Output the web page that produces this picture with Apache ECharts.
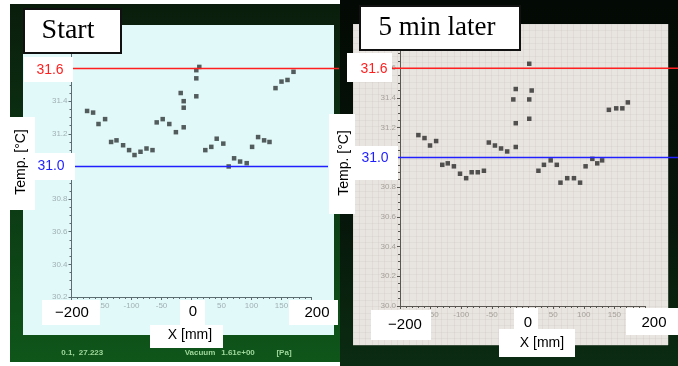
<!DOCTYPE html>
<html>
<head>
<meta charset="utf-8">
<script src="https://cdn.jsdelivr.net/npm/echarts@6/dist/echarts.min.js"></script>
<style>
html, body { margin: 0; padding: 0; background: #fff; }
#chart { width: 678px; height: 366px; }
</style>
</head>
<body>
<div id="chart"></div>
<script>
var xStart = [-174, -164, -155, -144, -134, -125, -114, -104, -95, -85, -75, -65, -58, -48, -37, -26,
    -18, -13, -13, -13, 13, 8, 8, 8,
    23, 33, 42, 53, 62, 71, 81, 92, 101, 111, 121, 130, 140, 150, 160, 170];
var tStart = [31.34, 31.33, 31.26, 31.29, 31.15, 31.16, 31.13, 31.10, 31.07, 31.09, 31.11, 31.10, 31.27, 31.29, 31.26, 31.21,
    31.45, 31.40, 31.36, 31.24, 31.61, 31.59, 31.54, 31.43,
    31.10, 31.12, 31.17, 31.14, 31.00, 31.05, 31.03, 31.02, 31.12, 31.18, 31.16, 31.15, 31.48, 31.52, 31.53, 31.58];

var xLater = [-170, -160, -151, -141, -131, -122, -112, -102, -92, -83, -73, -63, -55, -45, -35, -25,
    -15, -11, -11, -11, 11, 15, 11, 11,
    26, 35, 46, 56, 62, 73, 84, 94, 103, 114, 122, 130, 141, 153, 163, 172];
var tLater = [31.15, 31.13, 31.08, 31.11, 30.95, 30.96, 30.94, 30.89, 30.86, 30.90, 30.90, 30.91, 31.10, 31.08, 31.06, 31.04,
    31.39, 31.46, 31.23, 31.07, 31.63, 31.45, 31.39, 31.26,
    30.91, 30.95, 30.98, 30.95, 30.83, 30.86, 30.86, 30.83, 30.94, 30.99, 30.96, 30.98, 31.32, 31.33, 31.33, 31.37];

var refHigh = 31.6;
var refLow = 31.0;
var refHighLabel = "31.6";
var refLowLabel = "31.0";
var xEndLabels = ["\u2212200", "0", "200"];
var panelTitles = ["Start", "5 min later"];
var footerLeft = ["0.1,", "27.223", "Vacuum", "1.61e+00", "[Pa]"];

function pairs(xs, ys) {
    var out = [];
    for (var i = 0; i < xs.length; i++) out.push([xs[i], ys[i]]);
    return out;
}

var sans = "Liberation Sans, Arial, sans-serif";
var serif = "Liberation Serif, Times New Roman, serif";

function screenX(idx, color, lbl) {
    return {
        type: "value", gridIndex: idx, min: -200, max: 200, interval: 50,
        axisLine: { onZero: false, lineStyle: { color: color, width: 1 } },
        axisTick: { length: 3, lineStyle: { color: color } },
        minorTick: { show: true, splitNumber: 5, length: 2, lineStyle: { color: color } },
        splitLine: { show: false },
        axisLabel: { fontSize: 8, color: lbl, margin: 5, fontFamily: sans }
    };
}
function screenY(idx, min, color, lbl) {
    return {
        type: "value", gridIndex: idx, min: min, max: 31.8, interval: 0.2,
        axisLine: { show: true, onZero: false, lineStyle: { color: color, width: 1 } },
        axisTick: { show: true, length: 3, lineStyle: { color: color } },
        minorTick: { show: true, splitNumber: 4, length: 2, lineStyle: { color: color } },
        splitLine: { show: false },
        axisLabel: { fontSize: 8, color: lbl, margin: 4, fontFamily: sans,
            formatter: function (v) { return v.toFixed(1); } }
    };
}

var chart = echarts.init(document.getElementById("chart"));
chart.setOption({
    animation: false,
    backgroundColor: "#ffffff",
    grid: [
        { left: 71.5, top: 35.9, width: 240, height: 261.1 },
        { left: 400, top: 38.5, width: 245, height: 267.5 },
        { left: 353, top: 24, width: 315, height: 321 }
    ],
    xAxis: [
        screenX(0, "#5d6e72", "#9fb0b4"),
        screenX(1, "#5a5652", "#a6a09a"),
        { type: "value", gridIndex: 2, min: 0, max: 50, interval: 1,
          axisLine: { show: false }, axisTick: { show: false }, axisLabel: { show: false },
          splitLine: { show: true, lineStyle: { color: "rgba(205,188,182,0.25)", width: 1 } } }
    ],
    yAxis: [
        screenY(0, 30.2, "#5d6e72", "#9fb0b4"),
        screenY(1, 30.0, "#5a5652", "#a6a09a"),
        { type: "value", gridIndex: 2, min: 0, max: 50, interval: 1,
          axisLine: { show: false }, axisTick: { show: false }, axisLabel: { show: false },
          splitLine: { show: true, lineStyle: { color: "rgba(200,194,188,0.25)", width: 1 } } }
    ],
    series: [
        { type: "scatter", xAxisIndex: 0, yAxisIndex: 0, data: pairs(xStart, tStart),
          symbol: "rect", symbolSize: 4.5, itemStyle: { color: "#2e3436" } },
        { type: "scatter", xAxisIndex: 1, yAxisIndex: 1, data: pairs(xLater, tLater),
          symbol: "rect", symbolSize: 4.5, itemStyle: { color: "#2a2a2a" } }
    ]
});

// reference levels placed through each panel's own y scale
var yHighL = chart.convertToPixel({ xAxisIndex: 0, yAxisIndex: 0 }, [0, refHigh])[1];
var yLowL = chart.convertToPixel({ xAxisIndex: 0, yAxisIndex: 0 }, [0, refLow])[1];
var yHighR = chart.convertToPixel({ xAxisIndex: 1, yAxisIndex: 1 }, [0, refHigh])[1];
var yLowR = chart.convertToPixel({ xAxisIndex: 1, yAxisIndex: 1 }, [0, refLow])[1];

function box(x, y, w, h, border) {
    return { type: "rect", z: 100, shape: { x: x, y: y, width: w, height: h },
        style: { fill: "#ffffff", stroke: border ? "#111" : null, lineWidth: border ? 2 : 0 } };
}
function txt(s, x, y, size, color, family, rot) {
    return { type: "text", z: 110, x: x, y: y, rotation: rot || 0,
        style: { text: s, fill: color, font: size + "px " + family, align: "center", verticalAlign: "middle" } };
}
function hline(x1, x2, y, color) {
    return { type: "line", z: 90, shape: { x1: x1, y1: y, x2: x2, y2: y },
        style: { stroke: color, lineWidth: 1.5 } };
}

var g = [
    // photographed monitors
    { type: "rect", z: -20, shape: { x: 10, y: 4, width: 330, height: 358 },
      style: { fill: new echarts.graphic.LinearGradient(0, 0, 0, 1, [
          { offset: 0, color: "#0a1d0c" }, { offset: 0.55, color: "#0c3a14" }, { offset: 1, color: "#0f561a" }]) } },
    { type: "rect", z: -15, shape: { x: 23, y: 25, width: 311, height: 310 }, style: { fill: "#e2f9f9" } },
    { type: "rect", z: -20, shape: { x: 340, y: 0, width: 338, height: 366 },
      style: { fill: new echarts.graphic.LinearGradient(0, 0, 0, 1, [
          { offset: 0, color: "#030904" }, { offset: 0.6, color: "#06160a" }, { offset: 1, color: "#0b2c12" }]) } },
    { type: "rect", z: -15, shape: { x: 353, y: 24, width: 315, height: 321 }, style: { fill: "#e8e5e0" } },

    hline(73, 339, yHighL, "#ff1f1f"),
    hline(75, 328, yLowL, "#1f1fff"),
    hline(392, 678, yHighR, "#ff1f1f"),
    hline(398, 678, yLowR, "#1f1fff"),

    box(24, 9, 97, 44, true), txt(panelTitles[0], 68, 31, 28, "#000", serif),
    box(360, 6, 160, 44, true), txt(panelTitles[1], 437, 28, 27, "#000", serif),

    box(24, 57, 49, 25), txt(refHighLabel, 50, 70, 14, "#ff1f1f", sans),
    box(10, 117, 25, 93), box(35, 153, 40, 27),
    txt(refLowLabel, 51, 166, 14, "#1f1fff", sans),
    txt("Temp. [\u00b0C]", 21, 162, 14, "#000", sans, Math.PI / 2),

    box(347, 53, 45, 29), txt(refHighLabel, 374, 69.5, 14, "#ff1f1f", sans),
    box(329, 114, 26, 100), box(355, 146, 43, 34),
    txt(refLowLabel, 375, 158, 14, "#1f1fff", sans),
    txt("Temp. [\u00b0C]", 344, 163, 14, "#000", sans, Math.PI / 2),

    box(42, 300, 58, 25), txt(xEndLabels[0], 72, 313, 15, "#000", sans),
    box(180, 300, 25, 25), txt(xEndLabels[1], 193, 312, 15, "#000", sans),
    box(289, 300, 49, 25), txt(xEndLabels[2], 317, 313, 15, "#000", sans),
    box(150, 325, 73, 23), txt("X [mm]", 190, 335, 14, "#000", sans),

    box(371, 310, 60, 30), txt(xEndLabels[0], 405, 325, 15, "#000", sans),
    box(514, 308, 24, 22), txt(xEndLabels[1], 528, 323, 15, "#000", sans),
    box(626, 308, 52, 27), txt(xEndLabels[2], 654, 323, 15, "#000", sans),
    box(499, 329, 76, 28), txt("X [mm]", 542, 343, 14, "#000", sans)
];

var footX = [68, 91, 200, 238, 284];
for (var i = 0; i < footerLeft.length; i++) {
    g.push({ type: "text", z: 5, x: footX[i], y: 353,
        style: { text: footerLeft[i], fill: "#9ed69a", font: "bold 8px " + sans, align: "center", verticalAlign: "middle" } });
}

chart.setOption({ graphic: g });
</script>
</body>
</html>
